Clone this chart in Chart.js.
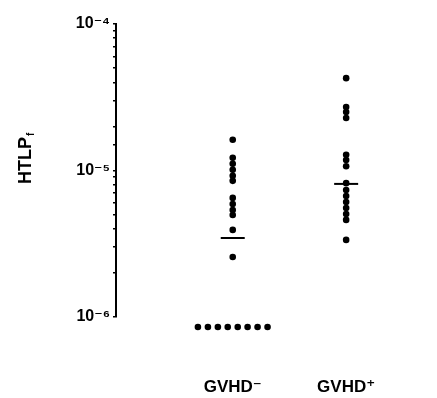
<!DOCTYPE html>
<html><head><meta charset="utf-8">
<script src="https://cdn.jsdelivr.net/npm/chart.js@4/dist/chart.umd.min.js"></script>
<style>html,body{margin:0;padding:0;background:#fff}#wrap{width:437px;height:398px}</style>
</head><body><div id="wrap"><canvas id="c" width="437" height="398"></canvas></div>
<script>
// ---- data ----
const categories = ['GVHD\u207B', 'GVHD\u207A'];
const gvhdNeg = [1.62e-5, 1.22e-5, 1.11e-5, 1.01e-5, 9.2e-6, 8.5e-6, 6.5e-6, 5.9e-6, 5.37e-6, 4.97e-6, 3.93e-6, 2.57e-6];
const gvhdNegUndetected = [8.55e-7, 8.55e-7, 8.55e-7, 8.55e-7, 8.55e-7, 8.55e-7, 8.55e-7, 8.55e-7];
const undetectedSpread = [-0.307, -0.219, -0.131, -0.044, 0.044, 0.131, 0.219, 0.307];
const gvhdPos = [4.27e-5, 2.71e-5, 2.51e-5, 2.28e-5, 1.28e-5, 1.18e-5, 1.07e-5, 8.2e-6, 7.36e-6, 6.7e-6, 6.1e-6, 5.55e-6, 5.05e-6, 4.6e-6, 3.36e-6];
const medians = [3.46e-6, 8.1e-6];
const yTickValues = [1e-6, 1e-5, 1e-4];
const yTickLabels = ['10\u207B\u2076', '10\u207B\u2075', '10\u207B\u2074'];

const pts = [];
gvhdNeg.forEach(v => pts.push({x: 1, y: v}));
gvhdPos.forEach(v => pts.push({x: 2, y: v}));
const below = gvhdNegUndetected.map((v, i) => ({x: 1 + undetectedSpread[i], y: v}));
const med = medians.map((v, i) => ({x: i + 1, y: v}));

const FONT = "'Liberation Sans', Arial, 'DejaVu Sans', sans-serif";

const extendArea = {
  id: 'extendArea',
  beforeDatasetsDraw(chart) { chart._sb = chart.chartArea.bottom; chart.chartArea.bottom += 30; },
  afterDatasetsDraw(chart) { chart.chartArea.bottom = chart._sb; }
};
const yTitle = {
  id: 'yTitle',
  afterDraw(chart) {
    const ctx = chart.ctx;
    ctx.save();
    ctx.translate(31, 184);
    ctx.rotate(-Math.PI / 2);
    ctx.fillStyle = '#000';
    ctx.textBaseline = 'alphabetic';
    ctx.textAlign = 'left';
    ctx.font = 'bold 18px ' + FONT;
    ctx.fillText('HTLP', 0, 0);
    const w = ctx.measureText('HTLP').width;
    ctx.font = 'bold 10px ' + FONT;
    ctx.fillText('f', w + 1, 3);
    ctx.restore();
  }
};

new Chart(document.getElementById('c'), {
  type: 'scatter',
  data: {
    datasets: [
      {data: pts, pointRadius: 3.3, pointBackgroundColor: '#000', pointBorderWidth: 0, clip: false},
      {data: below, pointRadius: 3.3, pointBackgroundColor: '#000', pointBorderWidth: 0, clip: false},
      {data: med, pointStyle: 'line', pointRadius: 12, pointBorderColor: '#000', pointBorderWidth: 2, clip: false}
    ]
  },
  options: {
    responsive: false, animation: false, devicePixelRatio: 1, events: [],
    layout: {padding: {top: 24, right: 2, left: 0, bottom: 0}},
    plugins: {legend: {display: false}, tooltip: {enabled: false}},
    scales: {
      x: {
        type: 'linear', min: -0.0292, max: 2.2993,
        afterBuildTicks(s) { s.ticks = [{value: 1}, {value: 2}]; },
        afterFit(s) { s.height = 81; },
        grid: {display: false, drawTicks: false},
        border: {display: false},
        ticks: {
          callback: v => categories[v - 1] || '',
          color: '#000', font: {family: FONT, size: 17, weight: 'bold'}, padding: 60, maxRotation: 0
        }
      },
      y: {
        type: 'logarithmic', min: 1e-6, max: 1e-4,
        afterFit(s) { s.width = 116; },
        grid: {display: true, drawOnChartArea: false, drawTicks: true, tickLength: 3, color: '#000', lineWidth: 1.5},
        border: {display: true, color: '#000', width: 2},
        ticks: {
          autoSkip: false, color: '#000', padding: 3,
          font: {family: FONT, size: 16, weight: 'bold'},
          callback: v => {
            const i = yTickValues.findIndex(t => Math.abs(Math.log10(v) - Math.log10(t)) < 1e-6);
            return i >= 0 ? yTickLabels[i] : '';
          }
        }
      }
    }
  },
  plugins: [extendArea, yTitle]
});
</script></body></html>
